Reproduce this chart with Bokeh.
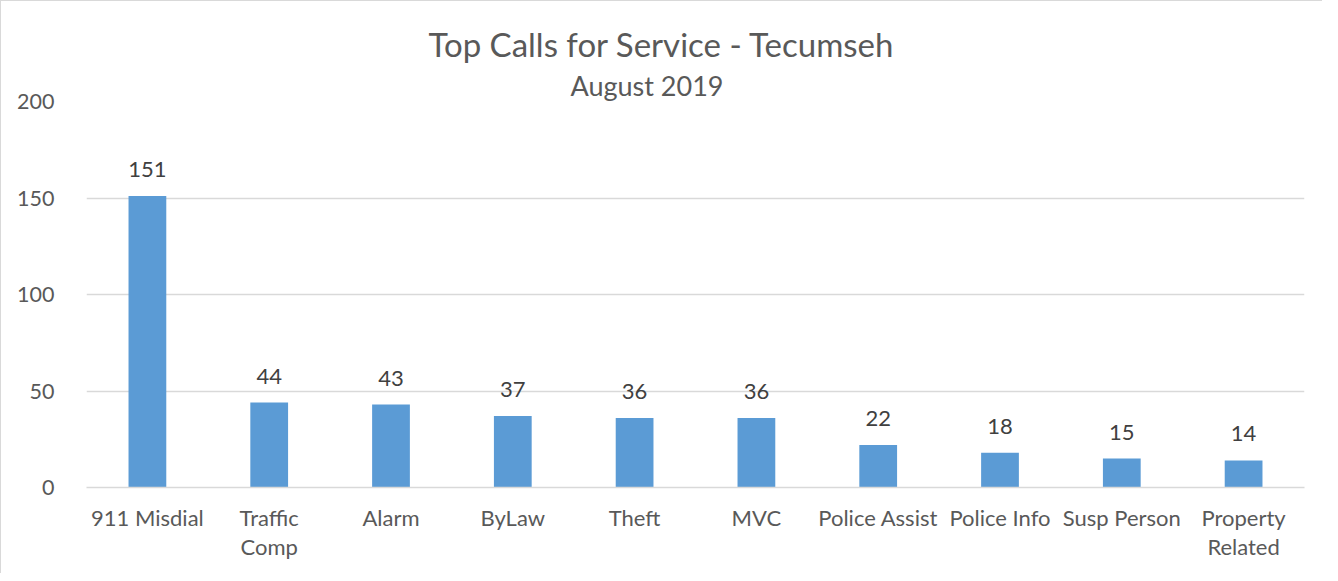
from bokeh.plotting import figure
from bokeh.models import ColumnDataSource, Title, FixedTicker, LabelSet, Range1d
from bokeh.core.properties import value
from bokeh.embed import file_html
from bokeh.resources import INLINE

categories = ["911 Misdial", "Traffic\nComp", "Alarm", "ByLaw", "Theft", "MVC",
              "Police Assist", "Police Info", "Susp Person", "Property\nRelated"]
counts = [151, 44, 43, 37, 36, 36, 22, 18, 15, 14]
y_ticks = [0, 50, 100, 150, 200]

FONT = "Lato"
TXT = "#595959"

src = ColumnDataSource(dict(cat=categories, val=counts, lab=[str(v) for v in counts]))

p = figure(x_range=categories, y_range=Range1d(0, 200), width=1322, height=573,
           output_backend="svg", toolbar_location=None,
           min_border_left=85, min_border_right=19, min_border_top=100, min_border_bottom=87)
p.styles = {"border-left": "1.5px solid #d9d9d9", "border-top": "1.5px solid #d9d9d9",
            "box-sizing": "border-box"}

p.vbar(x="cat", top="val", width=0.31, source=src, color="#5B9BD5", line_color=None)

labels = LabelSet(x="cat", y="val", text="lab", source=src, text_align="center",
                  text_baseline="alphabetic", y_offset=19, text_font=value(FONT),
                  text_font_size="22px", text_color="#404040")
p.add_layout(labels)

sub = Title(text="August 2019", align="left", text_font=FONT, text_font_size="27px",
            text_font_style="normal", text_color=TXT, standoff=0, offset=484)
main = Title(text="Top Calls for Service - Tecumseh", align="left", text_font=FONT,
             text_font_size="33px", text_font_style="normal", text_color=TXT,
             standoff=5, offset=342)
p.add_layout(sub, "above")
p.add_layout(main, "above")

p.outline_line_color = None
p.xgrid.grid_line_color = None
p.ygrid.grid_line_color = "#D9D9D9"
p.ygrid.grid_line_width = 1.5
p.yaxis.ticker = FixedTicker(ticks=y_ticks)
p.yaxis.axis_line_color = None
p.yaxis.major_tick_line_color = None
p.yaxis.minor_tick_line_color = None
p.yaxis.major_label_standoff = 26
p.yaxis.major_label_text_font = FONT
p.yaxis.major_label_text_font_size = "21.5px"
p.yaxis.major_label_text_color = TXT

p.xaxis.axis_line_color = "#D9D9D9"
p.xaxis.axis_line_width = 1.5
p.xaxis.major_tick_line_color = None
p.xaxis.minor_tick_line_color = None
p.xaxis.major_label_standoff = 10
p.xaxis.major_label_text_font = FONT
p.xaxis.major_label_text_font_size = "22px"
p.xaxis.major_label_text_color = TXT
p.xaxis.major_label_text_line_height = 1.1
p.x_range.range_padding = 0

open("out.html", "w").write(file_html(p, INLINE))
